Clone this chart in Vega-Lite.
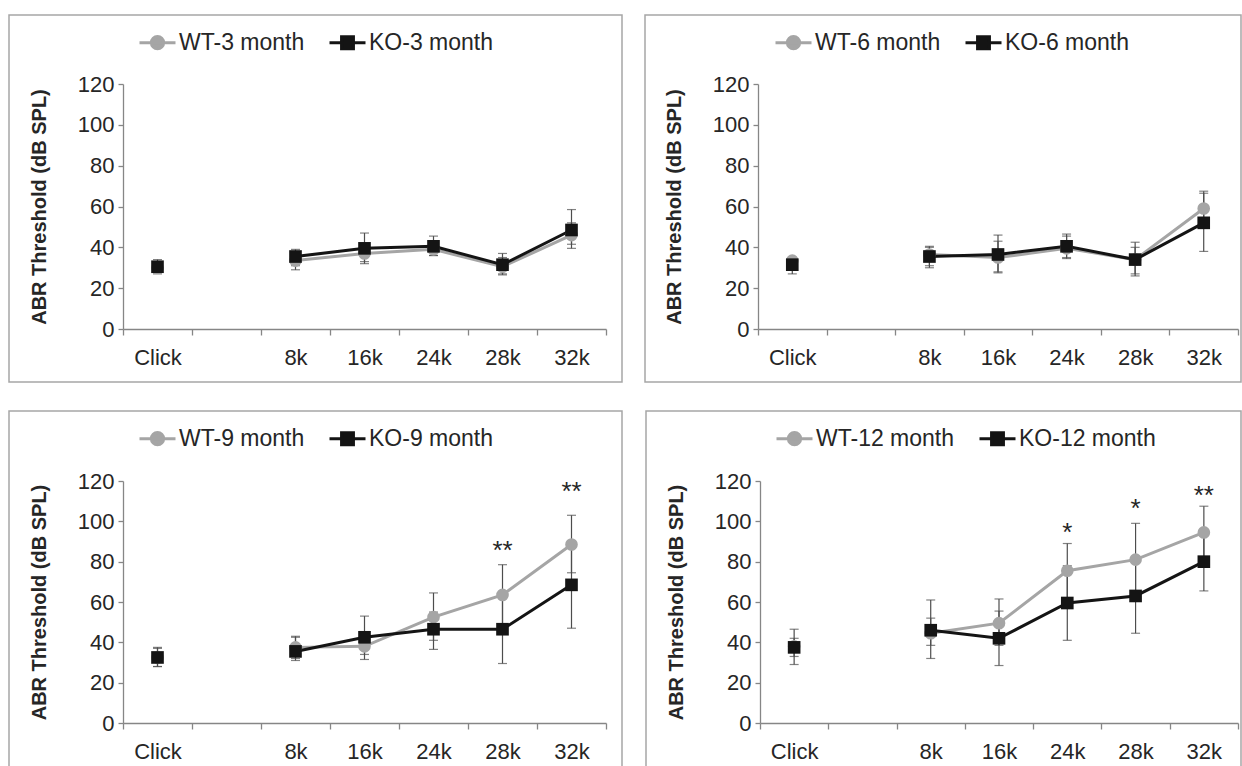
{
  "$schema": "https://vega.github.io/schema/vega-lite/v6.json",
  "padding": {"left": 8, "top": 14, "right": 0, "bottom": 0},
  "config": {
    "font": "Liberation Sans",
    "view": {"stroke": "#a6a6a6", "strokeWidth": 1.5},
    "axis": {"grid": false, "domainColor": "#868686", "domainWidth": 1.3, "tickColor": "#868686", "tickWidth": 1.3, "labelColor": "#262626", "labelFont": "Liberation Sans", "labelFontSize": 22, "titleFont": "Liberation Sans", "titleColor": "#262626"},
    "legend": {"orient": "none", "legendX": 129, "legendY": 8, "direction": "horizontal", "title": null, "labelFontSize": 23, "labelColor": "#262626", "labelFont": "Liberation Sans", "symbolSize": 1296, "columnPadding": 18, "labelOffset": 2, "padding": 0, "symbolStrokeWidth": 3}
  },
  "resolve": {"legend": {"color": "independent"}, "scale": {"color": "independent", "x": "independent", "y": "independent"}},
  "datasets": {
    "m3": [
      {"freq": "Click", "group": "WT-3 month", "mean": 30, "lo": 27, "hi": 33},
      {"freq": "8k", "group": "WT-3 month", "mean": 33.5, "lo": 29, "hi": 38},
      {"freq": "16k", "group": "WT-3 month", "mean": 37, "lo": 32, "hi": 42},
      {"freq": "24k", "group": "WT-3 month", "mean": 39, "lo": 36, "hi": 43},
      {"freq": "28k", "group": "WT-3 month", "mean": 30.5, "lo": 26.5, "hi": 35},
      {"freq": "32k", "group": "WT-3 month", "mean": 46, "lo": 39.5, "hi": 52},
      {"freq": "Click", "group": "KO-3 month", "mean": 30.5, "lo": 28, "hi": 34},
      {"freq": "8k", "group": "KO-3 month", "mean": 35.5, "lo": 31, "hi": 39},
      {"freq": "16k", "group": "KO-3 month", "mean": 39.5, "lo": 33, "hi": 47},
      {"freq": "24k", "group": "KO-3 month", "mean": 40.5, "lo": 36, "hi": 45.5},
      {"freq": "28k", "group": "KO-3 month", "mean": 31.5, "lo": 27, "hi": 37},
      {"freq": "32k", "group": "KO-3 month", "mean": 48.5, "lo": 41.5, "hi": 58.5}
    ],
    "m6": [
      {"freq": "Click", "group": "WT-6 month", "mean": 33.5, "lo": 30, "hi": 35},
      {"freq": "8k", "group": "WT-6 month", "mean": 36.5, "lo": 31, "hi": 40.5},
      {"freq": "16k", "group": "WT-6 month", "mean": 35, "lo": 28, "hi": 43},
      {"freq": "24k", "group": "WT-6 month", "mean": 39.5, "lo": 35, "hi": 46.5},
      {"freq": "28k", "group": "WT-6 month", "mean": 34, "lo": 27, "hi": 40},
      {"freq": "32k", "group": "WT-6 month", "mean": 59, "lo": 50, "hi": 67.5},
      {"freq": "Click", "group": "KO-6 month", "mean": 31.5, "lo": 27, "hi": 35},
      {"freq": "8k", "group": "KO-6 month", "mean": 35.5, "lo": 30, "hi": 40},
      {"freq": "16k", "group": "KO-6 month", "mean": 36.5, "lo": 27.5, "hi": 46},
      {"freq": "24k", "group": "KO-6 month", "mean": 40.5, "lo": 34.5, "hi": 45.5},
      {"freq": "28k", "group": "KO-6 month", "mean": 34, "lo": 26, "hi": 42.5},
      {"freq": "32k", "group": "KO-6 month", "mean": 52, "lo": 38, "hi": 66.5}
    ],
    "m9": [
      {"freq": "Click", "group": "WT-9 month", "mean": 32.5, "lo": 28, "hi": 37},
      {"freq": "8k", "group": "WT-9 month", "mean": 37.5, "lo": 32, "hi": 43},
      {"freq": "16k", "group": "WT-9 month", "mean": 38, "lo": 31.5, "hi": 44},
      {"freq": "24k", "group": "WT-9 month", "mean": 52.5, "lo": 41, "hi": 64.5},
      {"freq": "28k", "group": "WT-9 month", "mean": 63.5, "lo": 49, "hi": 78.5},
      {"freq": "32k", "group": "WT-9 month", "mean": 88.5, "lo": 74.5, "hi": 103},
      {"freq": "Click", "group": "KO-9 month", "mean": 32.5, "lo": 28, "hi": 37.5},
      {"freq": "8k", "group": "KO-9 month", "mean": 35.5, "lo": 31, "hi": 42.5},
      {"freq": "16k", "group": "KO-9 month", "mean": 42.5, "lo": 34, "hi": 53},
      {"freq": "24k", "group": "KO-9 month", "mean": 46.5, "lo": 36.5, "hi": 55},
      {"freq": "28k", "group": "KO-9 month", "mean": 46.5, "lo": 29.5, "hi": 63},
      {"freq": "32k", "group": "KO-9 month", "mean": 68.5, "lo": 47, "hi": 90}
    ],
    "m12": [
      {"freq": "Click", "group": "WT-12 month", "mean": 38, "lo": 33, "hi": 42},
      {"freq": "8k", "group": "WT-12 month", "mean": 44.5, "lo": 32, "hi": 61},
      {"freq": "16k", "group": "WT-12 month", "mean": 49.5, "lo": 38.5, "hi": 61.5},
      {"freq": "24k", "group": "WT-12 month", "mean": 75.5, "lo": 62, "hi": 89},
      {"freq": "28k", "group": "WT-12 month", "mean": 81, "lo": 63, "hi": 99},
      {"freq": "32k", "group": "WT-12 month", "mean": 94.5, "lo": 81, "hi": 107.5},
      {"freq": "Click", "group": "KO-12 month", "mean": 37.5, "lo": 29, "hi": 46.5},
      {"freq": "8k", "group": "KO-12 month", "mean": 46, "lo": 38.5, "hi": 52},
      {"freq": "16k", "group": "KO-12 month", "mean": 42, "lo": 28.5, "hi": 55.5},
      {"freq": "24k", "group": "KO-12 month", "mean": 59.5, "lo": 41, "hi": 78},
      {"freq": "28k", "group": "KO-12 month", "mean": 63, "lo": 44.5, "hi": 82},
      {"freq": "32k", "group": "KO-12 month", "mean": 80, "lo": 65.5, "hi": 94.5}
    ],
    "s9": [
      {"freq": "28k", "pos": 85.5, "label": "**"},
      {"freq": "32k", "pos": 114.5, "label": "**"}
    ],
    "s12": [
      {"freq": "24k", "pos": 94, "label": "*"},
      {"freq": "28k", "pos": 106, "label": "*"},
      {"freq": "32k", "pos": 112.5, "label": "**"}
    ]
  },
  "vconcat": [
    {
      "spacing": 21,
      "resolve": {"legend": {"color": "independent"}, "scale": {"color": "independent"}},
      "hconcat": [
        {
          "width": 613, "height": 367,
          "data": {"name": "m3"},
          "layer": [
            {"mark": {"type": "rule", "strokeWidth": 1.2, "color": "#4d4d4d"},
             "encoding": {
               "x": {"field": "freq", "type": "nominal", "scale": {"type": "band", "domain": ["Click", "gap", "8k", "16k", "24k", "28k", "32k"], "range": [114, 597], "paddingInner": 0, "paddingOuter": 0},
                     "axis": {"title": null, "offset": -53, "tickBand": "extent", "labelExpr": "datum.value == 'gap' ? '' : datum.value", "labelAngle": 0, "tickSize": 6, "labelPadding": 12}},
               "y": {"field": "lo", "type": "quantitative", "scale": {"domain": [0, 120], "range": [314, 69], "nice": false, "zero": false},
                     "axis": {"title": "ABR Threshold (dB SPL)", "offset": -114, "values": [0, 20, 40, 60, 80, 100, 120], "tickSize": 5, "labelPadding": 4, "titleFontSize": 20, "titleFontWeight": "bold", "titlePadding": 28}},
               "y2": {"field": "hi"}}},
            {"mark": {"type": "tick", "size": 9, "thickness": 1.2, "color": "#4d4d4d"},
             "encoding": {"x": {"field": "freq", "type": "nominal"}, "y": {"field": "lo", "type": "quantitative"}}},
            {"mark": {"type": "tick", "size": 9, "thickness": 1.2, "color": "#4d4d4d"},
             "encoding": {"x": {"field": "freq", "type": "nominal"}, "y": {"field": "hi", "type": "quantitative"}}},
            {"transform": [{"filter": "datum.freq != 'Click'"}],
             "mark": {"type": "line", "strokeWidth": 3},
             "encoding": {"x": {"field": "freq", "type": "nominal"}, "y": {"field": "mean", "type": "quantitative"},
               "color": {"field": "group", "type": "nominal", "scale": {"domain": ["WT-3 month", "KO-3 month"], "range": ["#a5a5a5", "#141414"]},
                 "legend": {"encode": {"symbols": {"update": {"shape": {"signal": "substring(datum.value,0,2)=='WT' ? 'M-1,0H1M-0.34,0A0.34,0.34 0 1,0 0.34,0A0.34,0.34 0 1,0 -0.34,0Z' : 'M-1,0H1M-0.33,-0.33H0.33V0.33H-0.33Z'"}, "fill": {"signal": "substring(datum.value,0,2)=='WT' ? '#a5a5a5' : '#141414'"}, "stroke": {"signal": "substring(datum.value,0,2)=='WT' ? '#a5a5a5' : '#141414'"}, "strokeWidth": {"value": 3}, "opacity": {"value": 1}}}}}}}},
            {"transform": [{"filter": "substring(datum.group,0,2)=='WT'"}],
             "mark": {"type": "point", "filled": true, "opacity": 1, "size": 160, "shape": "circle"},
             "encoding": {"x": {"field": "freq", "type": "nominal"}, "y": {"field": "mean", "type": "quantitative"},
               "color": {"field": "group", "type": "nominal"}}},
            {"transform": [{"filter": "substring(datum.group,0,2)=='KO'"}],
             "mark": {"type": "point", "filled": true, "opacity": 1, "size": 160, "shape": "square"},
             "encoding": {"x": {"field": "freq", "type": "nominal"}, "y": {"field": "mean", "type": "quantitative"},
               "color": {"field": "group", "type": "nominal"}}}
          ]
        },
        {
          "width": 596, "height": 367,
          "data": {"name": "m6"},
          "layer": [
            {"mark": {"type": "rule", "strokeWidth": 1.2, "color": "#4d4d4d"},
             "encoding": {
               "x": {"field": "freq", "type": "nominal", "scale": {"type": "band", "domain": ["Click", "gap", "8k", "16k", "24k", "28k", "32k"], "range": [113, 593], "paddingInner": 0, "paddingOuter": 0},
                     "axis": {"title": null, "offset": -53, "tickBand": "extent", "labelExpr": "datum.value == 'gap' ? '' : datum.value", "labelAngle": 0, "tickSize": 6, "labelPadding": 12}},
               "y": {"field": "lo", "type": "quantitative", "scale": {"domain": [0, 120], "range": [314, 69], "nice": false, "zero": false},
                     "axis": {"title": "ABR Threshold (dB SPL)", "offset": -113, "values": [0, 20, 40, 60, 80, 100, 120], "tickSize": 5, "labelPadding": 4, "titleFontSize": 20, "titleFontWeight": "bold", "titlePadding": 28}},
               "y2": {"field": "hi"}}},
            {"mark": {"type": "tick", "size": 9, "thickness": 1.2, "color": "#4d4d4d"},
             "encoding": {"x": {"field": "freq", "type": "nominal"}, "y": {"field": "lo", "type": "quantitative"}}},
            {"mark": {"type": "tick", "size": 9, "thickness": 1.2, "color": "#4d4d4d"},
             "encoding": {"x": {"field": "freq", "type": "nominal"}, "y": {"field": "hi", "type": "quantitative"}}},
            {"transform": [{"filter": "datum.freq != 'Click'"}],
             "mark": {"type": "line", "strokeWidth": 3},
             "encoding": {"x": {"field": "freq", "type": "nominal"}, "y": {"field": "mean", "type": "quantitative"},
               "color": {"field": "group", "type": "nominal", "scale": {"domain": ["WT-6 month", "KO-6 month"], "range": ["#a5a5a5", "#141414"]},
                 "legend": {"encode": {"symbols": {"update": {"shape": {"signal": "substring(datum.value,0,2)=='WT' ? 'M-1,0H1M-0.34,0A0.34,0.34 0 1,0 0.34,0A0.34,0.34 0 1,0 -0.34,0Z' : 'M-1,0H1M-0.33,-0.33H0.33V0.33H-0.33Z'"}, "fill": {"signal": "substring(datum.value,0,2)=='WT' ? '#a5a5a5' : '#141414'"}, "stroke": {"signal": "substring(datum.value,0,2)=='WT' ? '#a5a5a5' : '#141414'"}, "strokeWidth": {"value": 3}, "opacity": {"value": 1}}}}}}}},
            {"transform": [{"filter": "substring(datum.group,0,2)=='WT'"}],
             "mark": {"type": "point", "filled": true, "opacity": 1, "size": 160, "shape": "circle"},
             "encoding": {"x": {"field": "freq", "type": "nominal"}, "y": {"field": "mean", "type": "quantitative"},
               "color": {"field": "group", "type": "nominal"}}},
            {"transform": [{"filter": "substring(datum.group,0,2)=='KO'"}],
             "mark": {"type": "point", "filled": true, "opacity": 1, "size": 160, "shape": "square"},
             "encoding": {"x": {"field": "freq", "type": "nominal"}, "y": {"field": "mean", "type": "quantitative"},
               "color": {"field": "group", "type": "nominal"}}}
          ]
        }
      ]
    },
    {
      "spacing": 22,
      "resolve": {"legend": {"color": "independent"}, "scale": {"color": "independent"}},
      "hconcat": [
        {
          "width": 613, "height": 356,
          "data": {"name": "m9"},
          "layer": [
            {"mark": {"type": "rule", "strokeWidth": 1.2, "color": "#4d4d4d"},
             "encoding": {
               "x": {"field": "freq", "type": "nominal", "scale": {"type": "band", "domain": ["Click", "gap", "8k", "16k", "24k", "28k", "32k"], "range": [114, 597], "paddingInner": 0, "paddingOuter": 0},
                     "axis": {"title": null, "offset": -44, "tickBand": "extent", "labelExpr": "datum.value == 'gap' ? '' : datum.value", "labelAngle": 0, "tickSize": 6, "labelPadding": 12}},
               "y": {"field": "lo", "type": "quantitative", "scale": {"domain": [0, 120], "range": [312, 70], "nice": false, "zero": false},
                     "axis": {"title": "ABR Threshold (dB SPL)", "offset": -114, "values": [0, 20, 40, 60, 80, 100, 120], "tickSize": 5, "labelPadding": 4, "titleFontSize": 20, "titleFontWeight": "bold", "titlePadding": 28}},
               "y2": {"field": "hi"}}},
            {"mark": {"type": "tick", "size": 9, "thickness": 1.2, "color": "#4d4d4d"},
             "encoding": {"x": {"field": "freq", "type": "nominal"}, "y": {"field": "lo", "type": "quantitative"}}},
            {"mark": {"type": "tick", "size": 9, "thickness": 1.2, "color": "#4d4d4d"},
             "encoding": {"x": {"field": "freq", "type": "nominal"}, "y": {"field": "hi", "type": "quantitative"}}},
            {"transform": [{"filter": "datum.freq != 'Click'"}],
             "mark": {"type": "line", "strokeWidth": 3},
             "encoding": {"x": {"field": "freq", "type": "nominal"}, "y": {"field": "mean", "type": "quantitative"},
               "color": {"field": "group", "type": "nominal", "scale": {"domain": ["WT-9 month", "KO-9 month"], "range": ["#a5a5a5", "#141414"]},
                 "legend": {"legendY": 8, "encode": {"symbols": {"update": {"shape": {"signal": "substring(datum.value,0,2)=='WT' ? 'M-1,0H1M-0.34,0A0.34,0.34 0 1,0 0.34,0A0.34,0.34 0 1,0 -0.34,0Z' : 'M-1,0H1M-0.33,-0.33H0.33V0.33H-0.33Z'"}, "fill": {"signal": "substring(datum.value,0,2)=='WT' ? '#a5a5a5' : '#141414'"}, "stroke": {"signal": "substring(datum.value,0,2)=='WT' ? '#a5a5a5' : '#141414'"}, "strokeWidth": {"value": 3}, "opacity": {"value": 1}}}}}}}},
            {"transform": [{"filter": "substring(datum.group,0,2)=='WT'"}],
             "mark": {"type": "point", "filled": true, "opacity": 1, "size": 160, "shape": "circle"},
             "encoding": {"x": {"field": "freq", "type": "nominal"}, "y": {"field": "mean", "type": "quantitative"},
               "color": {"field": "group", "type": "nominal"}}},
            {"transform": [{"filter": "substring(datum.group,0,2)=='KO'"}],
             "mark": {"type": "point", "filled": true, "opacity": 1, "size": 160, "shape": "square"},
             "encoding": {"x": {"field": "freq", "type": "nominal"}, "y": {"field": "mean", "type": "quantitative"},
               "color": {"field": "group", "type": "nominal"}}},
            {"data": {"name": "s9"},
             "mark": {"type": "text", "fontSize": 26, "color": "#262626", "baseline": "middle"},
             "encoding": {"x": {"field": "freq", "type": "nominal"}, "y": {"field": "pos", "type": "quantitative"}, "text": {"field": "label"}}}
          ]
        },
        {
          "width": 595, "height": 356,
          "data": {"name": "m12"},
          "layer": [
            {"mark": {"type": "rule", "strokeWidth": 1.2, "color": "#4d4d4d"},
             "encoding": {
               "x": {"field": "freq", "type": "nominal", "scale": {"type": "band", "domain": ["Click", "gap", "8k", "16k", "24k", "28k", "32k"], "range": [114, 592], "paddingInner": 0, "paddingOuter": 0},
                     "axis": {"title": null, "offset": -44, "tickBand": "extent", "labelExpr": "datum.value == 'gap' ? '' : datum.value", "labelAngle": 0, "tickSize": 6, "labelPadding": 12}},
               "y": {"field": "lo", "type": "quantitative", "scale": {"domain": [0, 120], "range": [312, 70], "nice": false, "zero": false},
                     "axis": {"title": "ABR Threshold (dB SPL)", "offset": -114, "values": [0, 20, 40, 60, 80, 100, 120], "tickSize": 5, "labelPadding": 4, "titleFontSize": 20, "titleFontWeight": "bold", "titlePadding": 28}},
               "y2": {"field": "hi"}}},
            {"mark": {"type": "tick", "size": 9, "thickness": 1.2, "color": "#4d4d4d"},
             "encoding": {"x": {"field": "freq", "type": "nominal"}, "y": {"field": "lo", "type": "quantitative"}}},
            {"mark": {"type": "tick", "size": 9, "thickness": 1.2, "color": "#4d4d4d"},
             "encoding": {"x": {"field": "freq", "type": "nominal"}, "y": {"field": "hi", "type": "quantitative"}}},
            {"transform": [{"filter": "datum.freq != 'Click'"}],
             "mark": {"type": "line", "strokeWidth": 3},
             "encoding": {"x": {"field": "freq", "type": "nominal"}, "y": {"field": "mean", "type": "quantitative"},
               "color": {"field": "group", "type": "nominal", "scale": {"domain": ["WT-12 month", "KO-12 month"], "range": ["#a5a5a5", "#141414"]},
                 "legend": {"legendY": 8, "encode": {"symbols": {"update": {"shape": {"signal": "substring(datum.value,0,2)=='WT' ? 'M-1,0H1M-0.34,0A0.34,0.34 0 1,0 0.34,0A0.34,0.34 0 1,0 -0.34,0Z' : 'M-1,0H1M-0.33,-0.33H0.33V0.33H-0.33Z'"}, "fill": {"signal": "substring(datum.value,0,2)=='WT' ? '#a5a5a5' : '#141414'"}, "stroke": {"signal": "substring(datum.value,0,2)=='WT' ? '#a5a5a5' : '#141414'"}, "strokeWidth": {"value": 3}, "opacity": {"value": 1}}}}}}}},
            {"transform": [{"filter": "substring(datum.group,0,2)=='WT'"}],
             "mark": {"type": "point", "filled": true, "opacity": 1, "size": 160, "shape": "circle"},
             "encoding": {"x": {"field": "freq", "type": "nominal"}, "y": {"field": "mean", "type": "quantitative"},
               "color": {"field": "group", "type": "nominal"}}},
            {"transform": [{"filter": "substring(datum.group,0,2)=='KO'"}],
             "mark": {"type": "point", "filled": true, "opacity": 1, "size": 160, "shape": "square"},
             "encoding": {"x": {"field": "freq", "type": "nominal"}, "y": {"field": "mean", "type": "quantitative"},
               "color": {"field": "group", "type": "nominal"}}},
            {"data": {"name": "s12"},
             "mark": {"type": "text", "fontSize": 26, "color": "#262626", "baseline": "middle"},
             "encoding": {"x": {"field": "freq", "type": "nominal"}, "y": {"field": "pos", "type": "quantitative"}, "text": {"field": "label"}}}
          ]
        }
      ]
    }
  ],
  "spacing": 27
}
